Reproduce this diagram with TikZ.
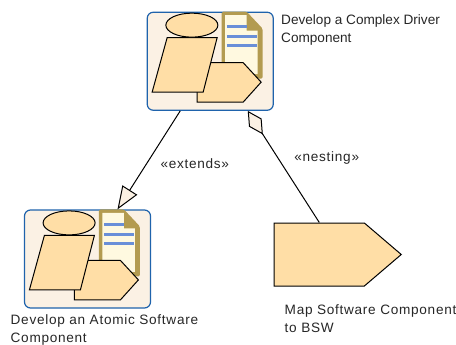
\documentclass[tikz,border=0pt]{standalone}
\usepackage{fontspec}
\setmainfont{Liberation Sans}
\newfontfamily\widefont[LetterSpace=5.3]{Liberation Sans}
\usetikzlibrary{arrows.meta,positioning,shapes.symbols}
\definecolor{boxfill}{HTML}{FBF1E4}
\definecolor{boxline}{HTML}{1F63AC}
\definecolor{taskfill}{HTML}{FFDEA6}
\definecolor{doctan}{HTML}{B39B50}
\definecolor{doccream}{HTML}{FFF9E0}
\definecolor{docblue}{HTML}{6A8FD8}
\tikzset{
  guidance/.pic={
    \fill[doctan,rounded corners=1.5pt] (75,0) -- (100,0) -- (116,17) -- (116,67) -- (75,67) -- cycle;
    \fill[doccream] (78.5,3.5) -- (100,3.5) -- (100,19) -- (111,19) -- (111,62.5) -- (78.5,62.5) -- cycle;
    \draw[docblue,line width=2.8pt] (80.2,15.2) -- (100,15.2) (80.2,24.8) -- (110.5,24.8) (80.2,34.2) -- (110.5,34.2);
    \draw[taskshape] (50.5,51) -- (96.5,51) -- (114.5,70.5) -- (96.5,90.5) -- (50.5,90.5) -- cycle;
    \draw[taskshape] (20.5,26) -- (70.5,26) -- (56.5,80.5) -- (5.5,80.5) -- cycle;
    \draw[taskshape] (45.2,13.5) ellipse [x radius=26, y radius=12];
  }
}
\begin{document}
\begin{tikzpicture}[x=1pt,y=-1pt,
  every node/.style={font=\fontsize{13.6}{18}\selectfont,text=black!85},
  taskshape/.style={draw=black,fill=taskfill,line width=1pt},
  block/.style={draw=boxline,fill=boxfill,line width=1.2pt,rounded corners=6pt,minimum width=126pt,minimum height=98pt,inner sep=0pt},
  task/.style={taskshape,signal,signal to=east,signal from=nowhere,signal pointer angle=81,minimum width=127pt,minimum height=63pt,inner sep=0pt},
  caption/.style={align=left,inner sep=0pt,anchor=north west},
  widecaption/.style={caption,font=\widefont\fontsize{13.6}{18}\selectfont},
  linklabel/.style={font=\widefont\fontsize{13.6}{18}\selectfont},
  link/.style={draw=black,line width=1pt},
  extends/.style={link,-{Triangle[open,fill=boxfill,length=23pt,width=17.5pt]}},
  nesting/.style={link,{Diamond[open,fill=boxfill,length=28pt,width=15pt]}-}]
  \useasboundingbox (0,0) rectangle (456,345);
  \node[block] (complex) at (210.25,61.25) {};
  \node[block] (atomic) at (87.5,259) {};
  \node[task] (mapbsw) at (319.3,254.5) {};
  \pic at (complex.north west) {guidance};
  \pic at (atomic.north west) {guidance};
  \node[caption] (complexlabel) at (281,14) {Develop a Complex Driver\\Component};
  \node[widecaption] (atomiclabel) at (10.5,314.5) {Develop an Atomic Software\\Component};
  \node[widecaption] (maplabel) at (284.5,304.5) {Map Software Component\\to BSW};
  \draw[extends] ([xshift=-30pt]complex.south) -- node[linklabel,right=10pt,pos=0.535] {«extends»} ([xshift=30pt]atomic.north);
  \draw[nesting] ([xshift=37.5pt]complex.south) -- node[linklabel,right=12.7pt,pos=0.42] {«nesting»} (mapbsw.north);
\end{tikzpicture}
\end{document}
